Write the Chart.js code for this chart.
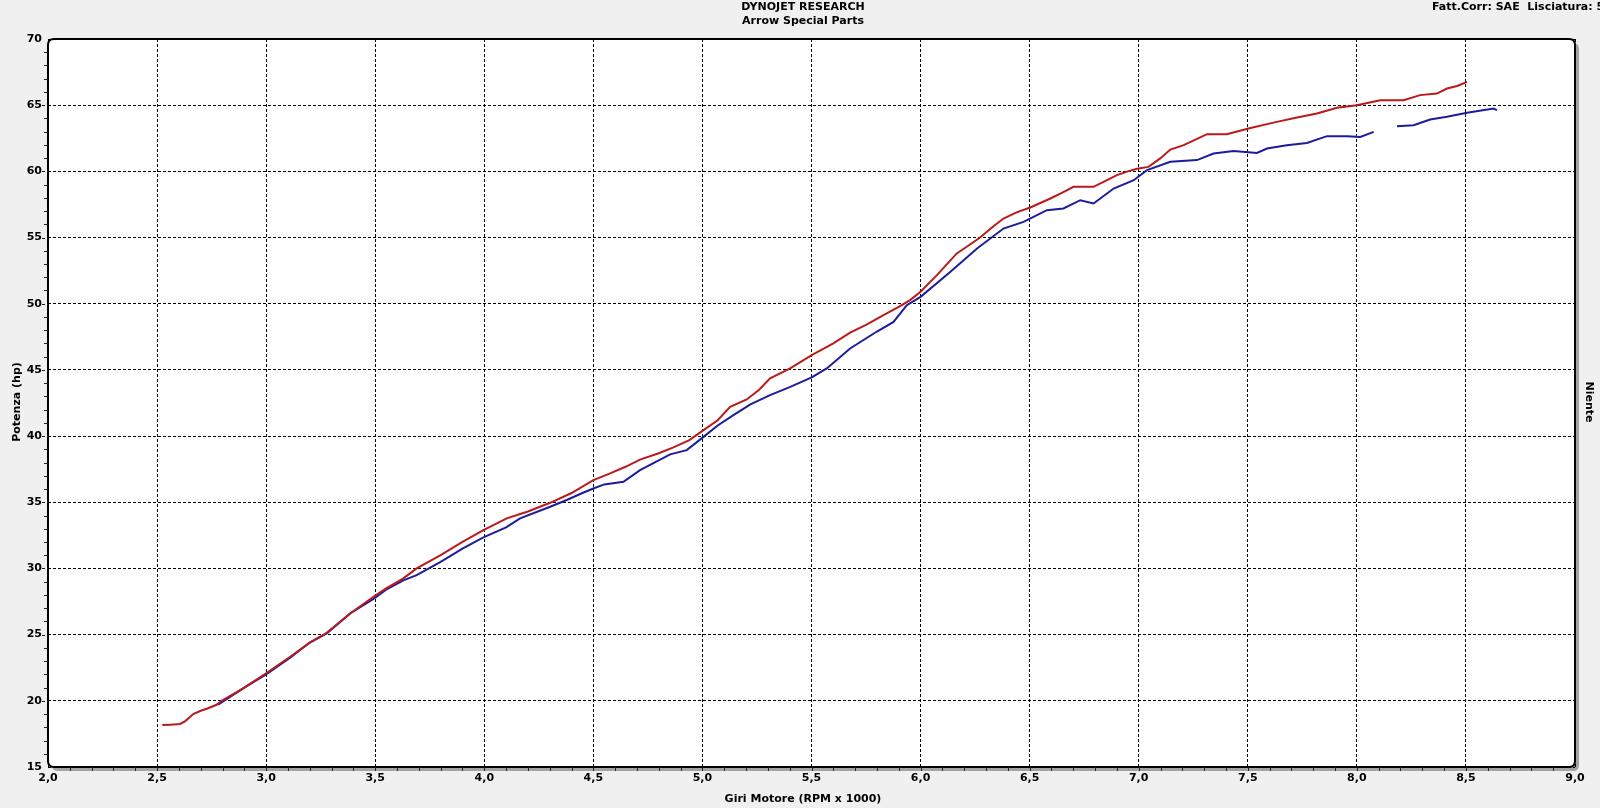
<!DOCTYPE html>
<html><head><meta charset="utf-8">
<script src="https://cdn.jsdelivr.net/npm/chart.js@4.4.0/dist/chart.umd.min.js"></script>
<style>html,body{margin:0;padding:0;background:#f0f0f0;overflow:hidden}#wrap{width:1600px;height:808px;position:relative}</style>
</head><body><div id="wrap"><canvas id="c" width="1600" height="808"></canvas></div>
<script>
const titleLines = ['DYNOJET RESEARCH', 'Arrow Special Parts'];
const cornerText = 'Fatt.Corr: SAE  Lisciatura: 5';
const xTitle = 'Giri Motore (RPM x 1000)';
const yTitle = 'Potenza (hp)';
const rightTitle = 'Niente';

const rpmRed = [2.524,2.56,2.605,2.628,2.666,2.70,2.728,2.773,2.796,2.9,3.0,3.11,3.2,3.278,3.385,3.492,3.55,3.629,3.69,3.8,3.9,3.996,4.103,4.2,4.302,4.4,4.5,4.577,4.65,4.714,4.8,4.867,4.94,5.005,5.07,5.127,5.203,5.26,5.31,5.4,5.501,5.6,5.677,5.75,5.83,5.906,5.952,6.0,6.075,6.166,6.22,6.273,6.33,6.38,6.44,6.503,6.595,6.65,6.701,6.793,6.85,6.9,6.95,6.992,7.045,7.1,7.145,7.206,7.26,7.313,7.404,7.503,7.633,7.72,7.817,7.909,8.0,8.107,8.214,8.29,8.367,8.413,8.46,8.505];
const powerRed = [18.17,18.2,18.25,18.45,19.0,19.25,19.4,19.7,20.0,21.0,22.08,23.33,24.4,25.14,26.6,27.86,28.5,29.25,30.0,31.0,32.0,32.9,33.78,34.3,34.96,35.7,36.68,37.18,37.7,38.22,38.7,39.15,39.7,40.45,41.2,42.21,42.77,43.5,44.36,45.1,46.12,47.0,47.82,48.4,49.14,49.82,50.27,50.9,52.16,53.8,54.4,55.0,55.8,56.44,56.9,57.27,57.95,58.4,58.83,58.83,59.3,59.72,60.0,60.2,60.34,61.0,61.65,61.98,62.4,62.81,62.81,63.24,63.74,64.05,64.37,64.8,65.0,65.38,65.38,65.76,65.88,66.26,66.45,66.76];

const rpmBlue = [2.78,2.9,3.0,3.11,3.2,3.278,3.385,3.492,3.55,3.629,3.69,3.8,3.9,3.996,4.1,4.164,4.302,4.378,4.45,4.5,4.55,4.638,4.714,4.852,4.928,5.005,5.07,5.142,5.22,5.31,5.4,5.501,5.57,5.677,5.8,5.876,5.937,6.0,6.137,6.259,6.38,6.472,6.579,6.655,6.732,6.793,6.885,6.977,7.038,7.145,7.267,7.343,7.435,7.542,7.588,7.679,7.771,7.863,7.955,8.016,8.077,8.13,8.184,8.26,8.336,8.413,8.505,8.627,8.642];
const powerBlue = [19.7,21.0,22.0,23.25,24.4,25.1,26.6,27.7,28.4,29.1,29.5,30.5,31.5,32.35,33.1,33.78,34.66,35.17,35.7,36.04,36.35,36.55,37.43,38.62,38.94,39.94,40.8,41.59,42.4,43.1,43.7,44.43,45.11,46.62,47.9,48.63,49.89,50.52,52.41,54.17,55.68,56.18,57.07,57.2,57.82,57.57,58.7,59.33,60.09,60.72,60.85,61.35,61.54,61.39,61.73,61.98,62.15,62.66,62.66,62.6,62.98,null,63.41,63.49,63.92,64.12,64.42,64.75,64.62];

const xMin = 2, xMax = 9, xMajor = 0.5, xMinor = 0.1;
const yMin = 15, yMax = 70, yMajor = 5, yMinor = 1;

const FONT = "'DejaVu Sans', Verdana, sans-serif";
const toPts = (xs, ys) => xs.map((x, i) => ({x: x, y: ys[i]}));

function rr(ctx, x, y, w, h, r) {
  ctx.beginPath();
  ctx.moveTo(x + r, y);
  ctx.lineTo(x + w - r, y);
  ctx.quadraticCurveTo(x + w, y, x + w, y + r);
  ctx.lineTo(x + w, y + h - r);
  ctx.quadraticCurveTo(x + w, y + h, x + w - r, y + h);
  ctx.lineTo(x + r, y + h);
  ctx.quadraticCurveTo(x, y + h, x, y + h - r);
  ctx.lineTo(x, y + r);
  ctx.quadraticCurveTo(x, y, x + r, y);
  ctx.closePath();
}

const framePlugin = {
  id: 'frame',
  beforeDraw(chart) {
    const ctx = chart.ctx, a = chart.chartArea;
    ctx.save();
    ctx.fillStyle = '#f0f0f0';
    ctx.fillRect(0, 0, chart.width, chart.height);
    ctx.fillStyle = '#a3a3a3';
    rr(ctx, a.left + 4, a.top + 4, a.right - a.left, a.bottom - a.top, 6);
    ctx.fill();
    ctx.fillStyle = '#ffffff';
    rr(ctx, a.left, a.top, a.right - a.left, a.bottom - a.top, 6);
    ctx.fill();
    ctx.restore();
  },
  afterDraw(chart) {
    const ctx = chart.ctx, a = chart.chartArea;
    const xs = chart.scales.x, ys = chart.scales.y;
    ctx.save();
    ctx.strokeStyle = '#000';
    ctx.lineWidth = 2;
    rr(ctx, a.left, a.top, a.right - a.left, a.bottom - a.top, 6);
    ctx.stroke();
    // minor ticks x
    ctx.lineWidth = 1;
    ctx.strokeStyle = '#222';
    for (let i = 1; i < Math.round((xMax - xMin) / xMinor); i++) {
      const v = xMin + i * xMinor;
      const px = Math.round(xs.getPixelForValue(v)) + 0.5;
      ctx.beginPath(); ctx.moveTo(px, a.bottom); ctx.lineTo(px, a.bottom + 4); ctx.stroke();
    }
    for (let i = 1; i < Math.round((yMax - yMin) / yMinor); i++) {
      const v = yMin + i * yMinor;
      const py = Math.round(ys.getPixelForValue(v)) + 0.5;
      const major = (i % Math.round(yMajor / yMinor)) === 0;
      ctx.setLineDash(major ? [3, 2] : []);
      ctx.beginPath(); ctx.moveTo(a.left - (major ? 6 : 4), py); ctx.lineTo(a.left, py); ctx.stroke();
    }
    ctx.setLineDash([]);
    // texts
    ctx.fillStyle = '#000';
    ctx.font = 'bold 11px ' + FONT;
    ctx.textBaseline = 'middle';
    ctx.textAlign = 'center';
    ctx.fillText(titleLines[0], 803, 7);
    ctx.fillText(titleLines[1], 803, 21);
    ctx.fillText(xTitle, 803, 799);
    ctx.textAlign = 'left';
    ctx.fillText(cornerText, 1432, 7);
    ctx.save();
    ctx.translate(17, 402);
    ctx.rotate(-Math.PI / 2);
    ctx.textAlign = 'center';
    ctx.fillText(yTitle, 0, 0);
    ctx.restore();
    ctx.save();
    ctx.translate(1589, 402);
    ctx.rotate(Math.PI / 2);
    ctx.textAlign = 'center';
    ctx.fillText(rightTitle, 0, 0);
    ctx.restore();
    ctx.restore();
  }
};

new Chart(document.getElementById('c'), {
  type: 'line',
  data: {
    datasets: [
      { label: 'Red', data: toPts(rpmRed, powerRed), borderColor: '#bb1a1a', borderWidth: 2, pointRadius: 0, tension: 0, fill: false },
      { label: 'Blue', data: toPts(rpmBlue, powerBlue), borderColor: '#1c1c9c', borderWidth: 2, pointRadius: 0, tension: 0, fill: false, spanGaps: false }
    ]
  },
  options: {
    responsive: false,
    animation: false,
    devicePixelRatio: 1,
    layout: { padding: { left: 0, right: 25, top: 39, bottom: 0 } },
    plugins: { legend: { display: false }, tooltip: { enabled: false }, title: { display: false } },
    scales: {
      x: {
        type: 'linear', min: xMin, max: xMax,
        afterFit: s => { s.height = 41; },
        ticks: { stepSize: xMajor, color: '#000', padding: 5, font: { family: FONT, size: 11, weight: 'bold' },
                 callback: v => v.toFixed(1).replace('.', ','), maxRotation: 0, autoSkip: false },
        grid: { color: '#000', lineWidth: 1, drawTicks: false },
        border: { display: false, dash: [3, 2] }
      },
      y: {
        type: 'linear', min: yMin, max: yMax,
        afterFit: s => { s.width = 48; },
        ticks: { stepSize: yMajor, color: '#000', padding: 6, font: { family: FONT, size: 11, weight: 'bold' },
                 callback: v => String(v), autoSkip: false },
        grid: { color: '#000', lineWidth: 1, drawTicks: false },
        border: { display: false, dash: [3, 2] }
      }
    }
  },
  plugins: [framePlugin]
});
</script></body></html>
